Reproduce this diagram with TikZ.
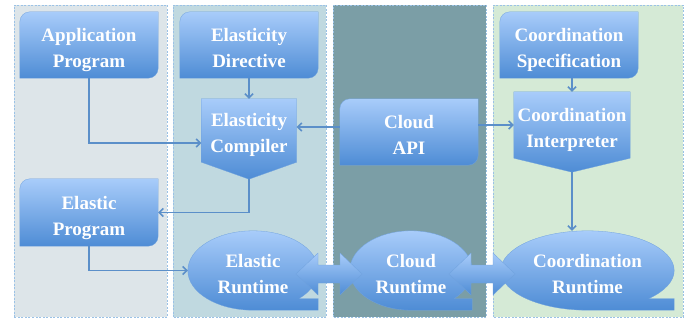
\documentclass[tikz,border=0pt]{standalone}
\usepackage{fontspec}
\setmainfont{Liberation Serif}
\usetikzlibrary{calc,arrows.meta}
\definecolor{boxtop}{RGB}{168,204,250}
\definecolor{boxbot}{RGB}{78,140,213}
\definecolor{boxline}{RGB}{112,162,222}
\definecolor{linkblue}{RGB}{91,143,201}
\definecolor{laneA}{RGB}{221,229,233}
\definecolor{laneB}{RGB}{192,217,224}
\definecolor{laneC}{RGB}{123,158,166}
\definecolor{laneD}{RGB}{213,234,214}
\definecolor{laneedge}{RGB}{155,194,230}
\pgfdeclarelayer{lanes}
\pgfdeclarelayer{shapes}
\pgfsetlayers{lanes,shapes,main}
\tikzset{
  lane/.style={draw=laneedge, line width=0.8pt, dash pattern=on 2pt off 1.5pt},
  blob/.style={top color=boxtop, bottom color=boxbot, draw=boxline, line width=0.3pt},
  label/.style={text=white, font=\fontsize{19}{26}\selectfont\bfseries, align=center, inner sep=0pt, text height=49pt, text depth=4pt},
  box/.style={label, minimum width=138pt, minimum height=66pt},
  link/.style={draw=linkblue, line width=1.6pt, -{Straight Barb[length=4pt,width=8pt]}},
}
% round diagonal corners
\def\diagbox#1{\path[blob] (#1.north east) -- ([xshift=10pt]#1.north west) arc[start angle=90,end angle=180,radius=10pt] -- (#1.south west) -- ([xshift=-10pt]#1.south east) arc[start angle=270,end angle=360,radius=10pt] -- cycle;}
% off-page connector
\def\pagebox#1#2{\path[blob] (#1.north west) -- (#1.north east) -- (#1.south east) -- ([yshift=-#2]#1.south) -- (#1.south west) -- cycle;}
% magnetic tape
\def\tapebox#1{\path[blob] let \p1=(#1.north east), \p2=(#1.center) in (#1.south) arc[start angle=270,end angle=-45,x radius={\x1-\x2},y radius={\y1-\y2}] -- ({\x1},{\y2-0.7071*(\y1-\y2)}) -- (#1.south east) -- cycle;}

\begin{document}
\begin{tikzpicture}[x=1pt,y=1pt]
	%%%%% START %%%%%
	\useasboundingbox (0,0) rectangle (694,322);

	\begin{pgfonlayer}{lanes}
		\draw[lane, fill=laneA] (14,5) rectangle (167,317);
		\draw[lane, fill=laneB] (173,5) rectangle (326,317);
		\draw[lane, fill=laneC] (333,5) rectangle (486,317);
		\draw[lane, fill=laneD] (493,5) rectangle (683,317);
	\end{pgfonlayer}

	\node[box] (ap) at (89,277) {Application\\Program};
	\node[box] (ed) at (249,277) {Elasticity\\Directive};
	\node[box] (cs) at (569,277) {Coordination\\Specification};
	\node[box] (api) at (409,190) {Cloud\\API};
	\node[box, minimum height=67pt] (ep) at (89,109.5) {Elastic\\Program};
	\node[label, minimum width=95pt, minimum height=63pt] (ec) at (249,191.5) {Elasticity\\Compiler};
	\node[label, minimum width=116pt, minimum height=66pt] (ci) at (572,197) {Coordination\\Interpreter};
	\node[label, minimum width=130pt, minimum height=79pt] (er) at (253,51.5) {Elastic\\Runtime};
	\node[label, minimum width=122pt, minimum height=79pt] (cr) at (411,51.5) {Cloud\\Runtime};
	\node[label, minimum width=173pt, minimum height=79pt] (cor) at (587.5,51.5) {Coordination\\Runtime};

	\coordinate (ectip) at ([yshift=-17pt]ec.south);
	\coordinate (citip) at ([yshift=-14pt]ci.south);
	\coordinate (apiw) at ([yshift=5pt]api.west);

	\begin{pgfonlayer}{shapes}
		\diagbox{ap}
		\diagbox{ed}
		\diagbox{cs}
		\diagbox{api}
		\diagbox{ep}
		\pagebox{ec}{17pt}
		\pagebox{ci}{14pt}
		\tapebox{er}
		\tapebox{cr}
		\tapebox{cor}
		\path[blob] (296,48) -- (318,69) -- (318,57) -- (340,57) -- (340,69) -- (362,48) -- (340,27) -- (340,39) -- (318,39) -- (318,27) -- cycle;
		\path[blob] (449,48) -- (471,69) -- (471,57) -- (493,57) -- (493,69) -- (515,48) -- (493,27) -- (493,39) -- (471,39) -- (471,27) -- cycle;
	\end{pgfonlayer}

	\draw[link] (ap.south) |- ([yshift=-12.5pt]ec.west);
	\draw[link] (ed.south) -- (ec.north);
	\draw[link] (apiw) -- (apiw -| ec.east);
	\draw[link] (api.east |- ci.west) -- (ci.west);
	\draw[link] (ci.north |- cs.south) -- (ci.north);
	\draw[link] (ectip) |- (ep.east);
	\draw[link] (ep.south) |- (er.west);
	\draw[link] (citip) -- (citip |- cor.north);

	%%%%% END %%%%%
\end{tikzpicture}
\end{document}
